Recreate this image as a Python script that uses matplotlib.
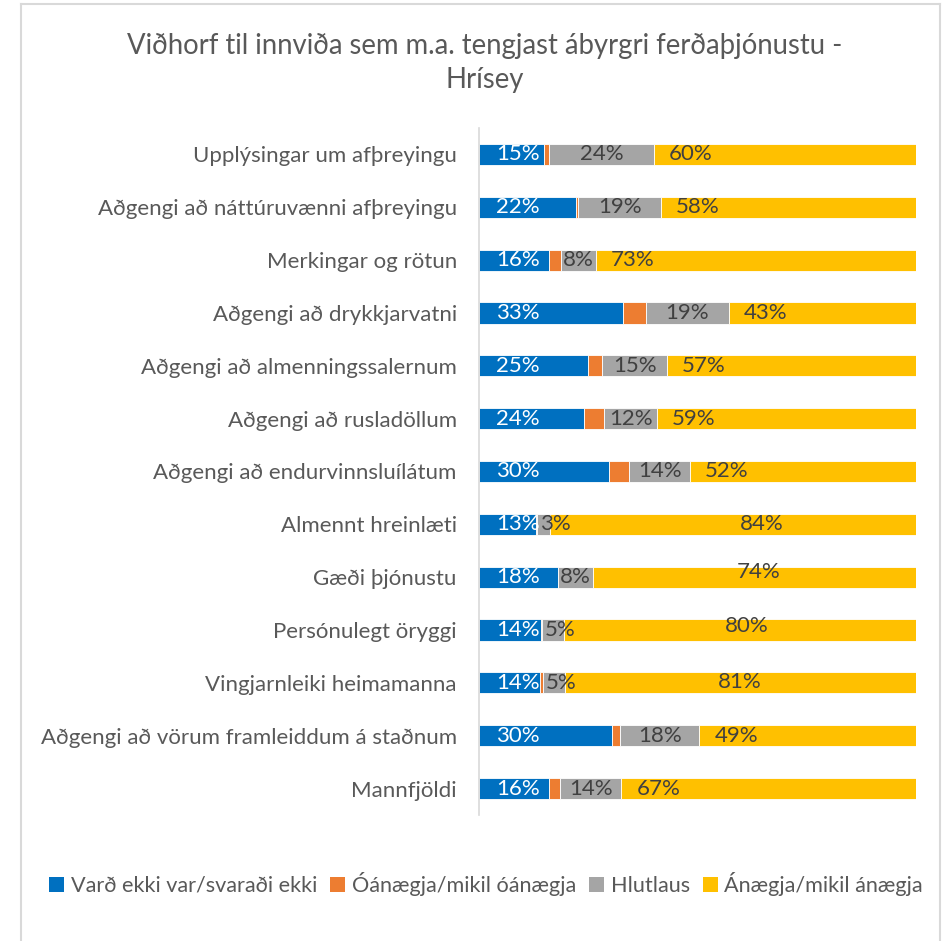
import matplotlib.pyplot as plt
import numpy as np
from matplotlib.patches import Patch
from matplotlib.lines import Line2D

plt.rcParams['font.family'] = ['Lato', 'DejaVu Sans']

categories = ['Upplýsingar um afþreyingu',
              'Aðgengi að náttúruvænni afþreyingu',
              'Merkingar og rötun',
              'Aðgengi að drykkjarvatni',
              'Aðgengi að almenningssalernum',
              'Aðgengi að rusladöllum',
              'Aðgengi að endurvinnsluílátum',
              'Almennt hreinlæti',
              'Gæði þjónustu',
              'Persónulegt öryggi',
              'Vingjarnleiki heimamanna',
              'Aðgengi að vörum framleiddum á staðnum',
              'Mannfjöldi']
series_names = ['Varð ekki var/svaraði ekki', 'Óánægja/mikil óánægja',
                'Hlutlaus', 'Ánægja/mikil ánægja']
ekki_var = [15, 22, 16, 33, 25, 24, 30, 13, 18, 14, 14, 30, 16]
oanaegja = [1.1, 0.5, 2.7, 5.3, 3.2, 4.6, 4.6, 0.3, 0, 0.4, 0.8, 1.9, 2.4]
hlutlaus = [24, 19, 8, 19, 15, 12, 14, 3, 8, 5, 5, 18, 14]
anaegja = [60, 58, 73, 43, 57, 59, 52, 84, 74, 80, 81, 49, 67]

colors = ['#0070c0', '#ed7d31', '#a5a5a5', '#ffc000']
txt = '#595959'
fs = 16

data = np.array([ekki_var, oanaegja, hlutlaus, anaegja], dtype=float)
shares = data / data.sum(axis=0) * 100  # 100% stacked

fig = plt.figure(figsize=(9.46, 9.41), dpi=100)
ax = fig.add_axes([479/946, 1-815/941, 437/946, 687/941])

y = np.arange(len(categories))
left = np.zeros(len(categories))
for k in range(4):
    ax.barh(y, shares[k], left=left, height=0.4, color=colors[k],
            edgecolor='white', linewidth=0.6)
    left += shares[k]

# value labels; yellow labels on a few rows were dragged by hand
moved = {7: (64.8, 0), 8: (64.1, -0.1), 9: (61.3, -0.08), 10: (59.7, -0.02)}
starts = np.cumsum(shares, axis=0) - shares
for i in range(len(categories)):
    ax.text(3.9, y[i], f'{ekki_var[i]}%', ha='left', va='center',
            color='white', fontsize=fs)
    if hlutlaus[i] < 6:
        # narrow grey piece: label starts at the segment edge
        ax.text(starts[2, i] + 0.6, y[i], f'{hlutlaus[i]}%', ha='left',
                va='center', color='#404040', fontsize=fs)
    else:
        ax.text(starts[2, i] + shares[2, i]/2, y[i], f'{hlutlaus[i]}%',
                ha='center', va='center', color='#404040', fontsize=fs)
    if i in moved:
        xx, dy = moved[i]
        ax.text(xx, y[i] + dy, f'{anaegja[i]}%', ha='center', va='center',
                color='#404040', fontsize=fs)
    else:
        ax.text(starts[3, i] + 3.4, y[i], f'{anaegja[i]}%', ha='left',
                va='center', color='#404040', fontsize=fs)

ax.set_xlim(0, 100)
ax.set_ylim(12.5, -0.5)
ax.set_yticks(y)
ax.set_yticklabels(categories, fontsize=fs, color=txt)
ax.tick_params(axis='y', length=0, pad=16)
ax.set_xticks([])
for s in ['top', 'right', 'bottom']:
    ax.spines[s].set_visible(False)
ax.spines['left'].set_color('#d9d9d9')
ax.spines['left'].set_linewidth(1.2)

fig.text(485/946, 1-46/941, 'Viðhorf til innviða sem m.a. tengjast ábyrgri ferðaþjónustu -',
         ha='center', va='center', fontsize=19.8, color=txt)
fig.text(485/946, 1-80/941, 'Hrísey', ha='center', va='center', fontsize=19.8, color=txt)

handles = [Patch(facecolor=c) for c in colors]
fig.legend(handles, series_names, loc='center', bbox_to_anchor=(486/946, 1-884/941),
           ncol=4, frameon=False, fontsize=15.6, handlelength=0.7, handleheight=0.7,
           handletextpad=0.3, columnspacing=0.6, labelcolor=txt)

# chart border
fc = '#d9d9d9'
fig.add_artist(Line2D([21/946, 940/946], [1-4/941, 1-4/941], color=fc, lw=1.5))
fig.add_artist(Line2D([21/946, 21/946], [0, 1-4/941], color=fc, lw=1.5))
fig.add_artist(Line2D([940/946, 940/946], [0, 1-4/941], color=fc, lw=1.5))

fig.savefig('out.png', dpi=100)
